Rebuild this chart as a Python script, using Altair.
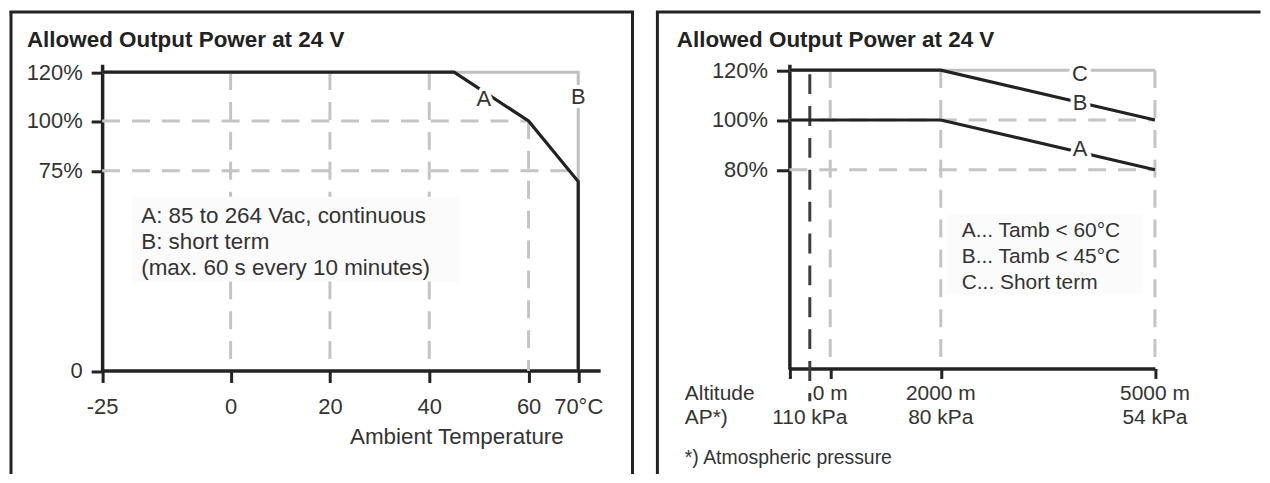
import altair as alt
import pandas as pd

FONT = "Liberation Sans, Arial, Helvetica, sans-serif"
INK = "#222222"
TEXT = "#333333"
GRID = "#c4c4c4"
LIGHT = "#c0c0c0"
DARK_DASH = "#3d3d3d"

# ---------------- data: left panel (output power vs ambient temperature) ----------------
panel_title = "Allowed Output Power at 24 V"

temp_ticks = [-25, 0, 20, 40, 60, 70]
temp_tick_labels = ["-25", "0", "20", "40", "60", "70°C"]
temp_axis_title = "Ambient Temperature"
left_power_ticks = [0, 75, 100, 120]
left_power_labels = ["0", "75%", "100%", "120%"]

curve_a_temp = [-25, 45, 60, 70, 70]
curve_a_power = [120, 120, 100, 71, 0]
curve_b_temp = [-25, 70, 70]
curve_b_power = [120, 120, 0]

temp_grid = [0, 20, 40, 60]
temp_grid_top = [120, 120, 120, 100]
left_power_grid = [75, 100]
left_power_grid_end = [70, 60]

left_curve_names = ["A", "B"]
left_curve_name_temp = [51.0, 70]
left_curve_name_power = [109, 110]

left_notes = ["A: 85 to 264 Vac, continuous", "B: short term", "(max. 60 s every 10 minutes)"]

# ---------------- data: right panel (output power vs altitude) ----------------
alt_axis_ticks = [-1500, 0, 2000, 5000]
alt_tick_values = [0, 2000, 5000]
alt_tick_labels = ["0 m", "2000 m", "5000 m"]
ap_tick_values = [-750, 2000, 5000]
ap_tick_labels = ["110 kPa", "80 kPa", "54 kPa"]
right_power_ticks = [80, 100, 120]
right_power_labels = ["80%", "100%", "120%"]

curve_ra_alt = [-1500, 2000, 5000]
curve_ra_power = [100, 100, 80]
curve_rb_alt = [-1500, 2000, 5000]
curve_rb_power = [120, 120, 100]
curve_rc_alt = [-1500, 5000]
curve_rc_power = [120, 120]

alt_grid = [0, 2000, 5000]
right_power_grid = [80, 100]
pressure_line_alt = [-750]

right_curve_names = ["A", "B", "C"]
right_curve_name_alt = [3950, 3950, 3950]
right_curve_name_power = [88.4, 107.0, 118.6]

right_notes = ["A... Tamb < 60°C", "B... Tamb < 45°C", "C... Short term"]
row_labels = ["Altitude", "AP*)"]
footnote = "*) Atmospheric pressure"

# ---------------- layout ----------------
H = 464
WL = 624
WR = 604
GAP = 19
NBSP = "\u00a0"


def label_expr(values, labels):
    expr = "''"
    for v, l in reversed(list(zip(values, labels))):
        expr = f"datum.value == {v} ? '{l}' : ({expr})"
    return expr


ONE = pd.DataFrame({"k": [0]})


def frame(width, right_edge):
    layers = [
        alt.Chart(ONE).mark_rule(color=INK, strokeWidth=3).encode(
            x=alt.value(0), y=alt.value(0), y2=alt.value(H)),
        alt.Chart(ONE).mark_rule(color=INK, strokeWidth=3, strokeCap="square").encode(
            x=alt.value(0), x2=alt.value(width), y=alt.value(0)),
    ]
    if right_edge:
        layers.append(alt.Chart(ONE).mark_rule(color=INK, strokeWidth=3).encode(
            x=alt.value(width), y=alt.value(0), y2=alt.value(H)))
    return layers


# ---------------- left panel ----------------
x_tick_labels_l = [l if v != 70 else NBSP * 4 + l for v, l in zip(temp_ticks, temp_tick_labels)]

XL = alt.X("x:Q",
           scale=alt.Scale(domain=[-25, 0, 70, 74.4], range=[91.5, 220.5, 569.5, 591.5],
                           zero=False, nice=False),
           axis=alt.Axis(values=temp_ticks, labelExpr=label_expr(temp_ticks, x_tick_labels_l),
                         offset=360 - H, tickSize=12, labelPadding=14,
                         title=temp_axis_title, titleX=554.5, titleY=73, titleAlign="right",
                         titleBaseline="alphabetic", titleAnchor="end"))
YL = alt.Y("y:Q",
           scale=alt.Scale(domain=[0, 75, 100, 120, 123.3], range=[360.5, 159.5, 109.5, 60.5, 52.5],
                          zero=False, nice=False),
           axis=alt.Axis(values=left_power_ticks, labelExpr=label_expr(left_power_ticks, left_power_labels),
                         offset=-91.5, tickSize=11, labelPadding=9, title=None,
                         labelBaseline="middle"))

gv_l = pd.DataFrame({"x": temp_grid, "y": temp_grid_top, "y2": [0] * len(temp_grid)})
gh_l = pd.DataFrame({"x": [-25] * len(left_power_grid), "x2": left_power_grid_end, "y": left_power_grid})
cb_l = pd.DataFrame({"x": curve_b_temp, "y": curve_b_power, "o": list(range(len(curve_b_temp)))})
ca_l = pd.DataFrame({"x": curve_a_temp, "y": curve_a_power, "o": list(range(len(curve_a_temp)))})
lab_l = pd.DataFrame({"x": left_curve_name_temp, "y": left_curve_name_power, "t": left_curve_names})
note_bg_l = pd.DataFrame({"x": [-19.2], "x2": [46.3], "y": [33.6], "y2": [65.3]})
note_pos_l = pd.DataFrame({"x": [-17.4], "y": [55.6]})

left_layers = frame(WL, True) + [
    alt.Chart(gv_l).mark_rule(color=GRID, strokeWidth=3, strokeDash=[18, 12]).encode(
        x=XL, y=YL, y2="y2:Q"),
    alt.Chart(gh_l).mark_rule(color=GRID, strokeWidth=3, strokeDash=[18, 12]).encode(
        x=XL, x2="x2:Q", y=YL),
    alt.Chart(note_bg_l).mark_rect(color="#fbfbfb").encode(x=XL, x2="x2:Q", y=YL, y2="y2:Q"),
    alt.Chart(cb_l).mark_line(color=LIGHT, strokeWidth=3, strokeJoin="miter").encode(
        x=XL, y=YL, order="o:Q"),
    alt.Chart(ca_l).mark_line(color=INK, strokeWidth=3.2, strokeJoin="miter").encode(
        x=XL, y=YL, order="o:Q"),
    alt.Chart(lab_l).mark_text(font=FONT, fontSize=22, fill="white", stroke="white",
                               strokeWidth=8, strokeJoin="round").encode(x=XL, y=YL, text="t:N"),
    alt.Chart(lab_l).mark_text(font=FONT, fontSize=22, color=TEXT).encode(x=XL, y=YL, text="t:N"),
    alt.Chart(note_pos_l).mark_text(
        font=FONT, fontSize=22.5, color=TEXT, align="left", baseline="alphabetic", lineHeight=26.5,
        text=[left_notes[0], left_notes[1], NBSP * 4 + left_notes[2]]).encode(x=XL, y=YL),
    alt.Chart(ONE).mark_text(font=FONT, fontSize=22.5, fontWeight="bold", color=INK, align="left",
                             baseline="alphabetic", text=panel_title).encode(
        x=alt.value(16), y=alt.value(35)),
]
left = alt.layer(*left_layers).properties(width=WL, height=H)

# ---------------- right panel ----------------
XR = alt.X("x:Q",
           scale=alt.Scale(domain=[-1500, 0, 2000, 5000], range=[132.5, 173.5, 284.5, 499.5],
                           zero=False, nice=False),
           axis=alt.Axis(values=alt_axis_ticks, labels=False, offset=358 - H, tickSize=10, title=None))
YR = alt.Y("y:Q",
           scale=alt.Scale(domain=[0, 122.4], range=[358.5, 52.5], zero=False, nice=False),
           axis=alt.Axis(values=right_power_ticks, labelExpr=label_expr(right_power_ticks, right_power_labels),
                         offset=-132.5, tickSize=13, labelPadding=9, title=None, labelBaseline="middle"))

gv_r = pd.DataFrame({"x": alt_grid, "y": [120] * len(alt_grid), "y2": [0] * len(alt_grid)})
gh_r = pd.DataFrame({"x": [-1500] * len(right_power_grid), "x2": [5000] * len(right_power_grid),
                     "y": right_power_grid})
dd_r = pd.DataFrame({"x": pressure_line_alt, "y": [118.4], "y2": [-13]})
cc_r = pd.DataFrame({"x": curve_rc_alt, "y": curve_rc_power, "o": list(range(len(curve_rc_alt)))})
cb_r = pd.DataFrame({"x": curve_rb_alt, "y": curve_rb_power, "o": list(range(len(curve_rb_alt)))})
ca_r = pd.DataFrame({"x": curve_ra_alt, "y": curve_ra_power, "o": list(range(len(curve_ra_alt)))})
lab_r = pd.DataFrame({"x": right_curve_name_alt, "y": right_curve_name_power, "t": right_curve_names})
note_bg_r = pd.DataFrame({"x": [2084], "x2": [4819], "y": [30], "y2": [62]})
note_pos_r = pd.DataFrame({"x": [2293], "y": [53.2]})
alt_lab = pd.DataFrame({"x": alt_tick_values, "y": [0] * len(alt_tick_values), "t": alt_tick_labels})
ap_lab = pd.DataFrame({"x": ap_tick_values, "y": [0] * len(ap_tick_values), "t": ap_tick_labels})

right_layers = frame(WR, False) + [
    alt.Chart(gv_r).mark_rule(color=GRID, strokeWidth=3, strokeDash=[18, 12]).encode(
        x=XR, y=YR, y2="y2:Q"),
    alt.Chart(gh_r).mark_rule(color=GRID, strokeWidth=3, strokeDash=[18, 12]).encode(
        x=XR, x2="x2:Q", y=YR),
    alt.Chart(dd_r).mark_rule(color=DARK_DASH, strokeWidth=3, strokeDash=[20, 12]).encode(
        x=XR, y=YR, y2="y2:Q"),
    alt.Chart(note_bg_r).mark_rect(color="#fbfbfb").encode(x=XR, x2="x2:Q", y=YR, y2="y2:Q"),
    alt.Chart(cc_r).mark_line(color=LIGHT, strokeWidth=3).encode(x=XR, y=YR, order="o:Q"),
    alt.Chart(cb_r).mark_line(color=INK, strokeWidth=3.2, strokeJoin="miter").encode(
        x=XR, y=YR, order="o:Q"),
    alt.Chart(ca_r).mark_line(color=INK, strokeWidth=3.2, strokeJoin="miter").encode(
        x=XR, y=YR, order="o:Q"),
    alt.Chart(lab_r).mark_text(font=FONT, fontSize=22, fill="white", stroke="white",
                               strokeWidth=8, strokeJoin="round").encode(x=XR, y=YR, text="t:N"),
    alt.Chart(lab_r).mark_text(font=FONT, fontSize=22, color=TEXT).encode(x=XR, y=YR, text="t:N"),
    alt.Chart(alt_lab).mark_text(font=FONT, fontSize=21, color=TEXT, baseline="alphabetic", dy=31).encode(
        x=XR, y=YR, text="t:N"),
    alt.Chart(ap_lab).mark_text(font=FONT, fontSize=21, color=TEXT, baseline="alphabetic", dy=55).encode(
        x=XR, y=YR, text="t:N"),
    alt.Chart(note_pos_r).mark_text(
        font=FONT, fontSize=21, color=TEXT, align="left", baseline="alphabetic", lineHeight=26.5,
        text=right_notes).encode(x=XR, y=YR),
    alt.Chart(ONE).mark_text(font=FONT, fontSize=21, color=TEXT, align="left", baseline="alphabetic",
                             lineHeight=24, text=row_labels).encode(x=alt.value(27.5), y=alt.value(389.5)),
    alt.Chart(ONE).mark_text(font=FONT, fontSize=19.5, color=TEXT, align="left", baseline="alphabetic",
                             text=footnote).encode(x=alt.value(27.5), y=alt.value(453.5)),
    alt.Chart(ONE).mark_text(font=FONT, fontSize=22.5, fontWeight="bold", color=INK, align="left",
                             baseline="alphabetic", text=panel_title).encode(
        x=alt.value(19.5), y=alt.value(35)),
]
right = alt.layer(*right_layers).properties(width=WR, height=H)

chart = (
    alt.hconcat(left, right, spacing=GAP)
    .properties(padding=0)
    .configure_view(stroke=None)
    .configure_axis(
        labelFont=FONT, labelFontSize=22, labelColor=TEXT,
        titleFont=FONT, titleFontSize=22.5, titleColor=TEXT, titleFontWeight="normal",
        domainColor=INK, domainWidth=3.5, tickColor=INK, tickWidth=3,
        grid=False, labelFlush=False, labelOverlap=False,
    )
)

chart.save("out.html", embed_options={"renderer": "svg", "actions": False})
